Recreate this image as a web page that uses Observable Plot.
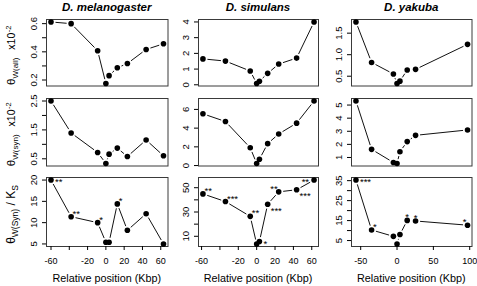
<!DOCTYPE html>
<html><head><meta charset="utf-8">
<script src="https://cdn.jsdelivr.net/npm/d3@7"></script>
<script src="https://cdn.jsdelivr.net/npm/@observablehq/plot@0.6"></script>
<style>
body{margin:0;background:#fff;}
#chart{position:relative;width:477px;height:286px;overflow:hidden;background:#fff;font-family:"Liberation Sans",Arial,Helvetica,sans-serif;}
#chart svg{position:absolute;}
</style></head><body><div id="chart"></div>
<script>
// ---- data ----
const species = ["D. melanogaster", "D. simulans", "D. yakuba"];
const melPos = [-60, -38, -9, 0, 3.5, 12.5, 23.5, 44, 63];
const simPos = [-58.5, -34, -7, 0, 3, 12, 24, 43.5, 62.5];
const yakPos = [-56.5, -35, -5, 0, 4, 14, 25.5, 97];

const melAll = [0.612, 0.600, 0.408, 0.175, 0.231, 0.287, 0.317, 0.417, 0.457];
const simAll = [1.65, 1.51, 0.88, 0.08, 0.23, 0.73, 1.32, 1.70, 4.0];
const yakAll = [1.76, 0.82, 0.553, 0.33, 0.385, 0.645, 0.66, 1.24];

const melSyn = [2.5, 1.395, 0.72, 0.337, 0.66, 0.87, 0.58, 1.15, 0.605];
const simSyn = [5.53, 4.71, 1.90, 0.22, 0.68, 2.34, 3.38, 4.53, 6.9];
const yakSyn = [5.31, 1.62, 0.62, 0.54, 1.44, 2.21, 2.69, 3.10];

const melRatio = [20, 11.4, 10.0, 5.4, 5.4, 14.4, 8.2, 12.1, 5.0];
const simRatio = [44.9, 38.6, 26.4, 3.7, 5.7, 36.4, 46.6, 48.3, 56.3];
const yakRatio = [35.3, 10.3, 7.1, 3.3, 8.0, 15.1, 14.8, 12.7];

const melSig = ["**", "**", "*", "", "", "*", "", "", ""];
const simSig = ["**", "***", "**", "", "*", "***", "**", "***", "**"];
const yakSig = ["***", "*", "", "", "", "*", "*", "*"];
const melSigSide = ["e", "ne", "ne", "", "", "ne", "", "", ""];
const simSigSide = ["ne", "ne", "ne", "", "e", "se", "nw", "se", "w"];
const yakSigSide = ["e", "ne", "", "", "", "n", "n", "nw"];

const melXTicks = [-60, -40, -20, 0, 20, 40, 60];
const melXTickLabels = ["-60", "", "-20", "0", "20", "40", "60"];
const simXTicks = [-60, -40, -20, 0, 20, 40, 60];
const simXTickLabels = ["-60", "", "-20", "0", "20", "40", "60"];
const yakXTicks = [-50, 0, 50, 100];
const yakXTickLabels = ["-50", "0", "50", "100"];

const melAllTicks = [0.2, 0.3, 0.4, 0.5, 0.6];
const melAllTickLabels = ["0.2", "", "0.4", "", "0.6"];
const melSynTicks = [0.5, 1.0, 1.5, 2.0, 2.5];
const melSynTickLabels = ["0.5", "", "1.5", "", "2.5"];
const melRatioTicks = [5, 10, 15, 20];
const melRatioTickLabels = ["5", "10", "15", "20"];
const simAllTicks = [0, 1, 2, 3, 4];
const simAllTickLabels = ["0", "1", "2", "3", "4"];
const simSynTicks = [0, 2, 4, 6];
const simSynTickLabels = ["0", "2", "4", "6"];
const simRatioTicks = [10, 20, 30, 40, 50];
const simRatioTickLabels = ["10", "", "30", "", "50"];
const yakAllTicks = [0.5, 1.0, 1.5];
const yakAllTickLabels = ["0.5", "1.0", "1.5"];
const yakSynTicks = [1, 2, 3, 4, 5];
const yakSynTickLabels = ["1", "2", "3", "4", "5"];
const yakRatioTicks = [5, 10, 15, 20, 25, 30, 35];
const yakRatioTickLabels = ["5", "", "15", "", "25", "", "35"];

const xTitle = "Relative position (Kbp)";

// ---- layout ----
const FONT = '"Liberation Sans", Arial, Helvetica, sans-serif';
const colBox = [[46, 167.5], [198, 318], [351, 471.5]];
const rowBox = [[19, 85.5], [97.5, 165], [177, 246]];
const chart = document.getElementById("chart");

function ext(v) {
  const lo = d3.min(v), hi = d3.max(v), r = hi - lo;
  return [lo - 0.04 * r, hi + 0.04 * r];
}

const sideStyle = {
  e:  {textAnchor: "start", dx: 4, dy: 2.3},
  ne: {textAnchor: "start", dx: 1.5, dy: -3},
  se: {textAnchor: "start", dx: 3, dy: 6.3},
  n:  {textAnchor: "middle", dx: 0, dy: -3},
  nw: {textAnchor: "end", dx: -1, dy: -3},
  w:  {textAnchor: "end", dx: -5, dy: 2.3}
};

function panel(ci, ri, xs, ys, xt, xtl, yt, ytl, sig, sigSide) {
  const [L, R] = colBox[ci], [T, B] = rowBox[ri];
  const mL = 40, mR = 5, mT = 8, mB = ri === 2 ? 24 : 4;
  const pairs = d3.pairs(d3.zip(xs, ys)).map(([a, b]) => ({x1: a[0], y1: a[1], x2: b[0], y2: b[1]}));
  const pts = xs.map((x, i) => ({x, y: ys[i], s: sig ? sig[i] : "", side: sigSide ? sigSide[i] : ""}));
  const marks = [
    Plot.frame({stroke: "#3a3a3a", strokeWidth: 1}),
    Plot.axisY({ticks: yt, tickFormat: d => ytl[yt.indexOf(d)], tickSize: 4, tickRotate: -90, tickPadding: 6, label: null}),
    Plot.arrow(pairs, {x1: "x1", y1: "y1", x2: "x2", y2: "y2", headLength: 0, inset: 4.5, stroke: "#111", strokeWidth: 1, strokeLinecap: "butt"}),
    Plot.dot(pts, {x: "x", y: "y", r: 2.8, fill: "#000", stroke: "none"})
  ];
  if (sig) {
    for (const side of Object.keys(sideStyle)) {
      const sub = pts.filter(p => p.s && p.side === side);
      if (sub.length) marks.push(Plot.text(sub, {x: "x", y: "y", text: "s", fontSize: 9.5, lineAnchor: "middle", ...sideStyle[side]}));
    }
  }
  if (ri === 2) marks.push(Plot.axisX({ticks: xt, tickFormat: d => xtl[xt.indexOf(d)], tickSize: 4, tickPadding: 7, label: null, fontSize: 9}));
  const svg = Plot.plot({
    width: (R - L) + mL + mR,
    height: (B - T) + mT + mB,
    marginLeft: mL, marginRight: mR, marginTop: mT, marginBottom: mB,
    x: ri === 2 ? {domain: ext(xs)} : {domain: ext(xs), axis: null},
    y: {domain: ext(ys)},
    style: {background: "transparent", overflow: "visible", fontFamily: FONT, fontSize: "9.5px", color: "#000"},
    marks
  });
  svg.style.left = (L - mL) + "px";
  svg.style.top = (T - mT) + "px";
  chart.appendChild(svg);
}

panel(0, 0, melPos, melAll, melXTicks, melXTickLabels, melAllTicks, melAllTickLabels);
panel(0, 1, melPos, melSyn, melXTicks, melXTickLabels, melSynTicks, melSynTickLabels);
panel(0, 2, melPos, melRatio, melXTicks, melXTickLabels, melRatioTicks, melRatioTickLabels, melSig, melSigSide);
panel(1, 0, simPos, simAll, simXTicks, simXTickLabels, simAllTicks, simAllTickLabels);
panel(1, 1, simPos, simSyn, simXTicks, simXTickLabels, simSynTicks, simSynTickLabels);
panel(1, 2, simPos, simRatio, simXTicks, simXTickLabels, simRatioTicks, simRatioTickLabels, simSig, simSigSide);
panel(2, 0, yakPos, yakAll, yakXTicks, yakXTickLabels, yakAllTicks, yakAllTickLabels);
panel(2, 1, yakPos, yakSyn, yakXTicks, yakXTickLabels, yakSynTicks, yakSynTickLabels);
panel(2, 2, yakPos, yakRatio, yakXTicks, yakXTickLabels, yakRatioTicks, yakRatioTickLabels, yakSig, yakSigSide);

// ---- titles and axis labels ----
const ov = d3.create("svg").attr("width", 477).attr("height", 286)
  .style("left", "0px").style("top", "0px").attr("font-family", FONT).attr("fill", "#000");
species.forEach((s, i) => {
  ov.append("text").attr("x", (colBox[i][0] + colBox[i][1]) / 2).attr("y", 10.5)
    .attr("text-anchor", "middle").attr("font-weight", "bold").attr("font-style", "italic")
    .attr("font-size", 11.5).text(s);
  ov.append("text").attr("x", (colBox[i][0] + colBox[i][1]) / 2).attr("y", 282)
    .attr("text-anchor", "middle").attr("font-size", 10.8).text(xTitle);
});
function ylab(cy, parts) {
  const t = ov.append("text").attr("transform", `translate(15,${cy}) rotate(-90)`).attr("text-anchor", "middle");
  parts.forEach(([txt, size, dy, dx]) => t.append("tspan").attr("font-size", size).attr("dy", dy).attr("dx", dx).text(txt));
}
ylab((rowBox[0][0] + rowBox[0][1]) / 2 + 3, [["θ", 11.5, 0, 0], ["W(all)", 8, 2.5, 0], ["x10", 10.5, -2.5, 8], ["-2", 7.5, -4.5, 0.5]]);
ylab((rowBox[1][0] + rowBox[1][1]) / 2 + 3, [["θ", 11.5, 0, 0], ["W(syn)", 8, 2.5, 0], ["x10", 10.5, -2.5, 8], ["-2", 7.5, -4.5, 0.5]]);
ylab((rowBox[2][0] + rowBox[2][1]) / 2 + 3, [["θ", 12, 0, 0], ["W(Syn)", 8.5, 2.5, 0], [" / K", 12, -2.5, 0], ["S", 8.5, 2.5, 0]]);
chart.appendChild(ov.node());
</script></body></html>
